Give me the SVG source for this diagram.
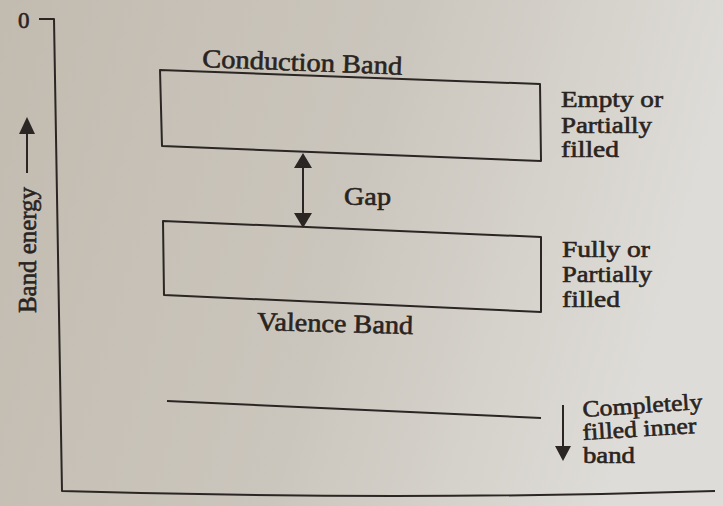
<svg xmlns="http://www.w3.org/2000/svg" width="723" height="506" viewBox="0 0 723 506">
<defs>
<linearGradient id="paper" x1="0" y1="0" x2="1" y2="0.2">
<stop offset="0" stop-color="#c2bbb0"/>
<stop offset="0.55" stop-color="#cbc6bd"/>
<stop offset="1" stop-color="#dedcd8"/>
</linearGradient>
<style>
.ln{fill:none;stroke:#2b2624;stroke-width:2;stroke-linejoin:round}
.hd{fill:#2b2624;stroke:none}
.t{font-family:"Liberation Serif","Times New Roman",serif;fill:#2a2421;stroke:#2a2421;stroke-width:0.6}
.big{font-size:26px}
.sm{font-size:23px}
</style>
</defs>
<rect width="723" height="506" fill="url(#paper)"/>
<g id="axis">
<path class="ln" d="M39,19 L54,19 L62,491 Q400,501 715,491"/>
<text class="t sm" x="18" y="28">0</text>
<text class="t" style="font-size:25px" transform="translate(36,313) rotate(-90)" textLength="126" lengthAdjust="spacingAndGlyphs">Band energy</text>
</g>
<g id="conduction-band">
<polygon class="ln" points="160,70 540,84 541,161 162,146"/>
<text class="t big" x="202" y="67" transform="rotate(2.2 202 67)" textLength="200" lengthAdjust="spacingAndGlyphs">Conduction Band</text>
<text class="t sm" x="561" y="107" textLength="102" lengthAdjust="spacingAndGlyphs">Empty or</text>
<text class="t sm" x="561" y="133" textLength="91" lengthAdjust="spacingAndGlyphs">Partially</text>
<text class="t sm" x="561" y="157" textLength="58" lengthAdjust="spacingAndGlyphs">filled</text>
</g>
<g id="gap">
<text class="t big" x="344" y="205" textLength="47" lengthAdjust="spacingAndGlyphs">Gap</text>
</g>
<g id="valence-band">
<polygon class="ln" points="163,221 541,237 541,312 164,295"/>
<text class="t big" x="257" y="330" transform="rotate(1.5 257 330)" textLength="156" lengthAdjust="spacingAndGlyphs">Valence Band</text>
<text class="t sm" x="562" y="257" textLength="88" lengthAdjust="spacingAndGlyphs">Fully or</text>
<text class="t sm" x="562" y="282" textLength="90" lengthAdjust="spacingAndGlyphs">Partially</text>
<text class="t sm" x="562" y="307" textLength="58" lengthAdjust="spacingAndGlyphs">filled</text>
</g>
<g id="inner-band">
<path class="ln" d="M167,401 L541,418"/>
<text class="t sm" x="583" y="417" transform="rotate(-3.8 583 417)" textLength="120" lengthAdjust="spacingAndGlyphs">Completely</text>
<text class="t sm" x="583" y="440" transform="rotate(-3.5 583 440)" textLength="114" lengthAdjust="spacingAndGlyphs">filled inner</text>
<text class="t sm" x="583" y="463" textLength="52" lengthAdjust="spacingAndGlyphs">band</text>
</g>
<g id="connectors">
<line class="ln" x1="303" y1="165" x2="303" y2="216"/>
<polygon class="hd" points="303,153 294,168 312,168"/>
<polygon class="hd" points="303,228 294,213 312,213"/>
<line class="ln" x1="27" y1="173" x2="27" y2="130"/>
<polygon class="hd" points="27,117 19,134 35,134"/>
<line class="ln" x1="563" y1="405" x2="563" y2="450"/>
<polygon class="hd" points="563,461 555,446 571,446"/>
</g>
</svg>
